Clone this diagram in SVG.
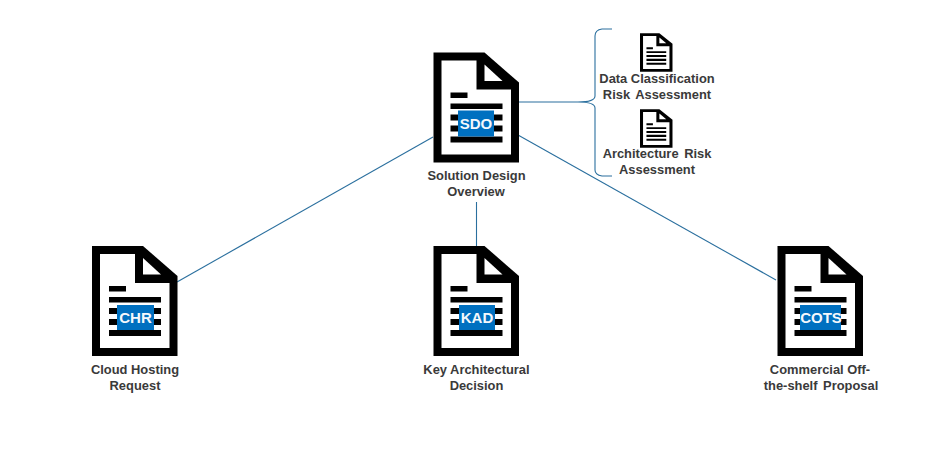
<svg xmlns="http://www.w3.org/2000/svg" width="938" height="461" viewBox="0 0 938 461">
<style>
.lab{font-family:"Liberation Sans",Arial,sans-serif;font-size:12.9px;font-weight:700;fill:#3a3a3a;text-anchor:middle}
.wide{word-spacing:2px}
.tag{font-family:"Liberation Sans",Arial,sans-serif;font-size:15px;font-weight:700;fill:#f4f8fc;text-anchor:middle}
.tagbox{fill:#0070c0}
.conn{fill:none;stroke:#2a6f9e;stroke-width:1.1}
</style>
<defs>
<g id="doc">
<path fill="#000" d="M0 0H51L85.500 30V110H0Z"/>
<path fill="#fff" d="M8 8H43V37H77.500V102H8Z"/>
<path fill="#fff" d="M51 12L69 28.500H51Z"/>
<path fill="#000" d="M17 40H34V45.500H17ZM17 51H69V56.500H17ZM17 62H69V68H17ZM17 73H69V79H17ZM17 84H69V90H17Z"/>
</g>
</defs>
<rect width="938" height="461" fill="#fff"/>
<g id="connectors">
<path class="conn" d="M433 137L177 282"/>
<path class="conn" d="M476.500 202V246"/>
<path class="conn" d="M518 135L776 280"/>
<path class="conn" d="M518 102H578"/>
<path class="conn" d="M612 29H602Q595 30 595 36V96Q595 102 578 102Q595 102 595 108V170Q595 175 602 176H612"/>
</g>
<g id="sdo">
<use href="#doc" x="433.500" y="52.500"/>
<rect class="tagbox" x="458" y="110.500" width="36" height="26"/>
<text class="tag" x="476" y="128.500">SDO</text>
<text class="lab" x="476.500" y="180">Solution Design</text>
<text class="lab" x="476" y="196">Overview</text>
</g>
<g id="data-classification">
<use href="#doc" transform="translate(640 33.300) scale(.38 .35)"/>
<text class="lab" x="657" y="83">Data Classification</text>
<text class="lab wide" x="657" y="99">Risk Assessment</text>
</g>
<g id="architecture-risk">
<use href="#doc" transform="translate(640 109.300) scale(.38 .35)"/>
<text class="lab wide" x="657" y="158">Architecture Risk</text>
<text class="lab" x="657" y="174">Assessment</text>
</g>
<g id="chr">
<use href="#doc" x="92" y="246"/>
<rect class="tagbox" x="117" y="305" width="37" height="25"/>
<text class="tag" x="135.500" y="323">CHR</text>
<text class="lab" x="135" y="374">Cloud Hosting</text>
<text class="lab" x="135" y="390">Request</text>
</g>
<g id="kad">
<use href="#doc" x="433.500" y="246"/>
<rect class="tagbox" x="459" y="305" width="36" height="25"/>
<text class="tag" x="477" y="323">KAD</text>
<text class="lab" x="476.500" y="374">Key Architectural</text>
<text class="lab" x="476.500" y="390">Decision</text>
</g>
<g id="cots">
<use href="#doc" x="777.500" y="246"/>
<rect class="tagbox" x="800" y="305" width="41" height="25"/>
<text class="tag" x="821" y="323">COTS</text>
<text class="lab" x="820" y="374">Commercial Off-</text>
<text class="lab wide" x="821" y="390">the-shelf Proposal</text>
</g>
</svg>
